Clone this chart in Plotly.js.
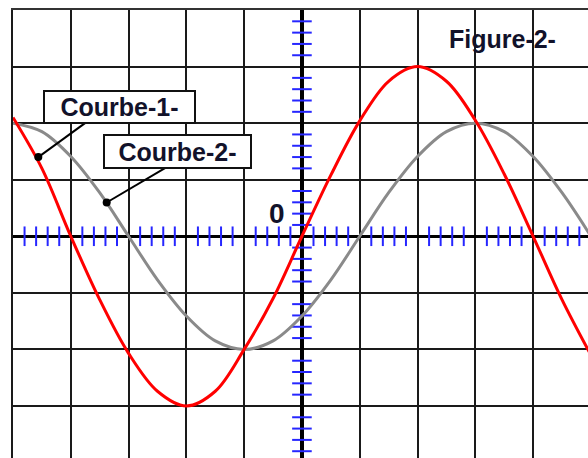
<!DOCTYPE html>
<html>
<head>
<meta charset="utf-8">
<script src="https://cdn.plot.ly/plotly-3.0.1.min.js"></script>
<style>html,body{margin:0;padding:0;background:#fff;}#chart{width:588px;height:458px;}</style>
</head>
<body>
<div id="chart"></div>
<script>
// Sample positions along the horizontal axis (grid units)
var xValues = [-5, -4.5, -4, -3.5, -3, -2.5, -2, -1.5, -1, -0.5, 0, 0.5, 1, 1.5, 2, 2.5, 3, 3.5, 4, 4.5, 5];
// Courbe-1- (red) values
var courbe1 = [2.10, 1.20, 0, -1.12, -2.07, -2.74, -3, -2.74, -2.0, -1.10, 0, 1.08, 2.04, 2.74, 3, 2.74, 2.05, 1.10, 0, -1.12, -2.10];
// Courbe-2- (grey) values
var courbe2 = [2, 1.85, 1.41, 0.77, 0, -0.77, -1.41, -1.85, -2, -1.85, -1.41, -0.77, 0, 0.77, 1.41, 1.85, 2, 1.85, 1.41, 0.77, 0];
// Texts
var label1 = 'Courbe-1-';
var label2 = 'Courbe-2-';
var figTitle = 'Figure-2-';
var originLabel = '0';

// minor tick positions on the axes (every 0.2, skipping grid lines)
var tx = [], ty = [];
for (var i = -25; i <= 25; i++) { if (i % 5 !== 0) { tx.push(i / 5); } }
for (var j = -20; j <= 20; j++) { if (j % 5 !== 0) { ty.push(j / 5); } }

var FONT = 'Liberation Sans, Arial, sans-serif';
var tickColor = '#2626ff';

var traces = [
  { x: tx, y: tx.map(function(){return 0;}), mode: 'markers', type: 'scatter', hoverinfo: 'skip',
    marker: { symbol: 'line-ns-open', size: 14, color: tickColor, line: { width: 2, color: tickColor } } },
  { x: ty.map(function(){return 0;}), y: ty, mode: 'markers', type: 'scatter', hoverinfo: 'skip',
    marker: { symbol: 'line-ew-open', size: 14, color: tickColor, line: { width: 2, color: tickColor } } },
  { x: xValues, y: courbe2, mode: 'lines', type: 'scatter', name: label2,
    line: { color: '#8a8a8a', width: 3, shape: 'spline', smoothing: 1 } },
  { x: xValues, y: courbe1, mode: 'lines', type: 'scatter', name: label1,
    line: { color: '#ff0000', width: 3, shape: 'spline', smoothing: 1 } }
];

var layout = {
  width: 588, height: 458,
  margin: { l: 13, r: 0, t: 10, b: 0 },
  paper_bgcolor: '#ffffff', plot_bgcolor: '#ffffff',
  showlegend: false,
  xaxis: { range: [-5, 4.95], dtick: 1, tick0: 0, showgrid: true, gridcolor: '#1a1a1a', gridwidth: 2,
           zeroline: true, zerolinecolor: '#000000', zerolinewidth: 3.5,
           showline: true, side: 'top', linecolor: '#333333', linewidth: 2,
           showticklabels: false, ticks: '', fixedrange: true },
  yaxis: { range: [-3.92, 4], dtick: 1, tick0: 0, showgrid: true, gridcolor: '#1a1a1a', gridwidth: 2,
           zeroline: true, zerolinecolor: '#000000', zerolinewidth: 3.5,
           showline: true, side: 'left', linecolor: '#1a1a1a', linewidth: 2,
           showticklabels: false, ticks: '', fixedrange: true },
  shapes: [
    { type: 'line', xref: 'x', yref: 'y', x0: -3.754, y0: 2.001, x1: -4.562, y1: 1.40, line: { color: '#000', width: 2 } },
    { type: 'line', xref: 'x', yref: 'y', x0: -2.370, y0: 1.206, x1: -3.379, y1: 0.597, line: { color: '#000', width: 2 } },
    { type: 'circle', xref: 'x', yref: 'y', xsizemode: 'pixel', ysizemode: 'pixel', xanchor: -4.562, yanchor: 1.40,
      x0: -4, x1: 4, y0: -4, y1: 4, fillcolor: '#000', line: { width: 0 } },
    { type: 'circle', xref: 'x', yref: 'y', xsizemode: 'pixel', ysizemode: 'pixel', xanchor: -3.379, yanchor: 0.597,
      x0: -4, x1: 4, y0: -4, y1: 4, fillcolor: '#000', line: { width: 0 } }
  ],
  annotations: [
    { text: label1, xref: 'x', yref: 'y', x: -3.157, y: 2.294, showarrow: false,
      xanchor: 'center', yanchor: 'middle', width: 149, height: 30,
      bgcolor: '#ffffff', bordercolor: '#111111', borderwidth: 2, borderpad: 0,
      font: { family: FONT, size: 25, color: '#12122a', weight: 'bold' } },
    { text: label2, xref: 'x', yref: 'y', x: -2.154, y: 1.506, showarrow: false,
      xanchor: 'center', yanchor: 'middle', width: 145, height: 31,
      bgcolor: '#ffffff', bordercolor: '#111111', borderwidth: 2, borderpad: 0,
      font: { family: FONT, size: 25, color: '#12122a', weight: 'bold' } },
    { text: figTitle, xref: 'x', yref: 'y', x: 3.47, y: 3.48, showarrow: false,
      xanchor: 'center', yanchor: 'middle',
      font: { family: FONT, size: 25, color: '#12122a', weight: 'bold' } },
    { text: originLabel, xref: 'x', yref: 'y', x: -0.424, y: 0.407, showarrow: false,
      xanchor: 'center', yanchor: 'middle',
      font: { family: FONT, size: 28, color: '#12122a', weight: 'bold' } }
  ]
};

Plotly.newPlot('chart', traces, layout, { staticPlot: true, displayModeBar: false });
</script>
</body>
</html>
